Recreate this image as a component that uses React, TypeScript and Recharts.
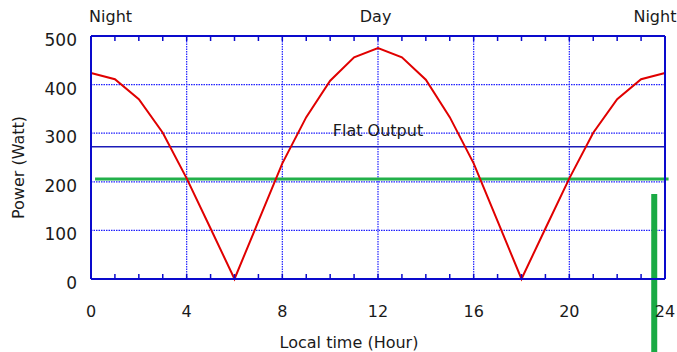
import { LineChart, Line, XAxis, YAxis, CartesianGrid, ReferenceLine } from 'recharts'

// hourly output of the panel
const hours = [0, 1, 2, 3, 4, 5, 6, 7, 8, 9, 10, 11, 12, 13, 14, 15, 16, 17, 18, 19, 20, 21, 22, 23, 24]
const power = [424, 411, 370, 301, 207, 104, 0, 119, 238, 333, 408, 456, 475, 456, 410, 333, 238, 119, 0, 104, 207, 301, 370, 411, 424]

const majorHourTicks = [0, 4, 8, 12, 16, 20, 24]
const minorHourTicks = hours
const majorPowerTicks = [0, 100, 200, 300, 400, 500]
const minorPowerTicks = [0, 20, 40, 60, 80, 100, 120, 140, 160, 180, 200, 220, 240, 260, 280, 300, 320, 340, 360, 380, 400, 420, 440, 460, 480, 500]

const periodPositions = [0.82, 11.9, 23.58]
const periodLabels = ['Night', 'Day', 'Night']

const flatOutput = 272
const averageLevel = 206
const averageSpan = [0.17, 24.15]
const markerHour = 23.55
const markerRange = [175, -150]

const FRAME = '#0a0acc'
const GRID = '#1f1fff'
const TEXT = '#1a1a1a'

const data = hours.map((h, i) => ({ hour: h, power: power[i] }))

const blank = () => ''
const noLabel = { fontSize: 0 }

export default function App() {
  return (
    <div style={{ position: 'absolute', left: 0, top: 0, fontFamily: '"DejaVu Sans", sans-serif' }}>
      <LineChart width={677} height={352} data={data} margin={{ top: 35, right: 12, bottom: 72, left: 90 }}>
        <CartesianGrid stroke={GRID} strokeDasharray="1.5 1" strokeWidth={1.2} />

        {/* main axes: labels, bottom and left frame */}
        <XAxis
          dataKey="hour"
          type="number"
          domain={[0, 24]}
          ticks={majorHourTicks}
          interval={0}
          height={1}
          axisLine={{ stroke: FRAME, strokeWidth: 2 }}
          tickLine={false}
          tickSize={0}
          tickMargin={27}
          tick={{ fill: TEXT, fontSize: 16 }}
          label={{ value: 'Local time (Hour)', position: 'center', dx: -29, dy: 63, fill: TEXT, fontSize: 16 }}
        />
        <YAxis
          type="number"
          domain={[0, 500]}
          ticks={majorPowerTicks}
          interval={0}
          width={1}
          axisLine={{ stroke: FRAME, strokeWidth: 2 }}
          tickLine={false}
          tickSize={0}
          tickMargin={14}
          tick={{ fill: TEXT, fontSize: 17, dy: 4 }}
          label={{ value: 'Power (Watt)', angle: -90, position: 'center', dx: -72, dy: 10, fill: TEXT, fontSize: 16 }}
        />

        {/* inward minor ticks + top/right frame */}
        <XAxis xAxisId="minorBottom" type="number" domain={[0, 24]} ticks={minorHourTicks} interval={0} orientation="bottom" mirror height={1} axisLine={false} tick={noLabel} tickFormatter={blank} tickSize={5} tickLine={{ stroke: FRAME, strokeWidth: 1.5 }} />
        <XAxis xAxisId="minorTop" type="number" domain={[0, 24]} ticks={minorHourTicks} interval={0} orientation="top" mirror height={1} axisLine={{ stroke: FRAME, strokeWidth: 2 }} tick={noLabel} tickFormatter={blank} tickSize={5} tickLine={{ stroke: FRAME, strokeWidth: 1.5 }} />
        <XAxis xAxisId="period" type="number" domain={[0, 24]} ticks={periodPositions} interval={0} orientation="top" height={1} axisLine={false} tickLine={false} tickSize={0} tickMargin={14} tick={{ fill: TEXT, fontSize: 16 }} tickFormatter={(_v: number, i: number) => periodLabels[i]} />
        <YAxis yAxisId="minorLeft" type="number" domain={[0, 500]} ticks={minorPowerTicks} interval={0} orientation="left" mirror width={1} axisLine={false} tick={noLabel} tickFormatter={blank} tickSize={4} tickLine={{ stroke: FRAME, strokeWidth: 1.5 }} />
        <YAxis yAxisId="minorRight" type="number" domain={[0, 500]} ticks={minorPowerTicks} interval={0} orientation="right" mirror width={1} axisLine={{ stroke: FRAME, strokeWidth: 2 }} tick={noLabel} tickFormatter={blank} tickSize={4} tickLine={{ stroke: FRAME, strokeWidth: 1.5 }} />

        <ReferenceLine
          y={flatOutput}
          stroke="#1c1cb8"
          strokeWidth={1.5}
          label={{ value: 'Flat Output', position: 'top', offset: 11, fill: TEXT, fontSize: 16 }}
        />
        <ReferenceLine
          segment={[{ x: averageSpan[0], y: averageLevel }, { x: averageSpan[1], y: averageLevel }]}
          stroke="#22b04a"
          strokeWidth={3}
          ifOverflow="visible"
        />

        <Line type="linear" dataKey="power" stroke="#e00000" strokeWidth={2} dot={false} isAnimationActive={false} />

        <ReferenceLine
          segment={[{ x: markerHour, y: markerRange[0] }, { x: markerHour, y: markerRange[1] }]}
          stroke="#1aaa44"
          strokeWidth={6}
          ifOverflow="visible"
        />
      </LineChart>
    </div>
  )
}
